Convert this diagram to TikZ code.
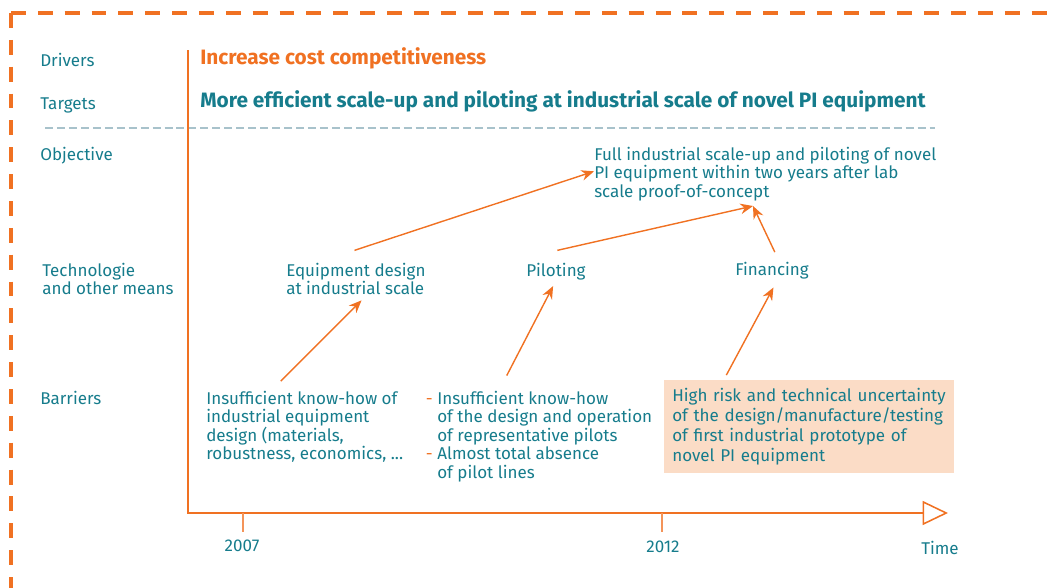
\documentclass[tikz,border=0pt]{standalone}
\usepackage{fontspec}
\setmainfont[Numbers=Lining]{Fira Sans}
\usetikzlibrary{arrows.meta}
\definecolor{ora}{RGB}{240,113,34}
\definecolor{tealtxt}{RGB}{22,124,140}
\definecolor{peach}{RGB}{251,220,198}
\definecolor{divgray}{RGB}{168,194,203}
\tikzset{
  txt/.style={text=tealtxt,inner sep=0pt,font=\fontsize{12.1}{13.1}\selectfont},
  lbl/.style={txt,anchor=base west},
  blk/.style={txt,align=left,anchor=north west},
  head/.style={inner sep=0pt,anchor=base west,font=\fontsize{14.8}{16}\selectfont\bfseries},
  arr/.style={draw=ora,line width=1pt,-{Stealth[length=9pt,width=7.5pt]}},
}
\begin{document}
\begin{tikzpicture}[x=0.025cm,y=-0.025cm]
  \useasboundingbox (0,0) rectangle (1054,587);
  % frame
  \draw[ora,line width=2.8pt,dash pattern=on 10.6pt off 8.5pt] (11,13) -- (1070,13);
  \draw[ora,line width=2.8pt,dash pattern=on 10.6pt off 8.5pt] (11,13) -- (11,600);
  % divider
  \draw[divgray,line width=1.8pt,dash pattern=on 5.7pt off 2.8pt] (45,128) -- (935,128);
  % axes
  \draw[ora,line width=1.1pt,-{Triangle[open,length=18pt,width=17pt]}] (188,50) -- (188,513) -- (948,513);
  \draw[ora!75,line width=1.1pt] (243,513) -- (243,532);
  \draw[ora!75,line width=1.1pt] (662,513) -- (662,532);
  % row labels
  \node[lbl] (drivers) at(40,66){Drivers};
  \node[lbl] (targets) at(40,109){Targets};
  \node[lbl] (objective) at(40,160){Objective};
  \node[blk] (means) at(42,263){Technologie\\and other means};
  \node[lbl] (barriers) at(40,404){Barriers};
  % headlines
  \node[head,text=ora] (driver) at(200,64){Increase cost competitiveness};
  \node[head,text=tealtxt] (target) at(200,107){More efficient scale-up and piloting at industrial scale of novel PI equipment};
  % objective
  \node[blk] (obj) at(594,147){Full industrial scale-up and piloting of novel\\PI equipment within two years after lab\\scale proof-of-concept};
  \coordinate (objin) at(753,206);
  % means
  \node[blk] (equip) at(286,263){Equipment design\\at industrial scale};
  \node[blk] (pilot) at(526,263){Piloting};
  \node[blk] (finance) at(735,262){Financing};
  % barriers
  \node[blk] (bar1) at(206,391){Insufficient know-how of\\industrial equipment\\design (materials,\\robustness, economics, ...};
  \node[blk] (bar2) at(437,391){\llap{\textcolor{ora}{-}\ }Insufficient know-how\\of the design and operation\\of representative pilots\\\llap{\textcolor{ora}{-}\ }Almost total absence\\of pilot lines};
  \node[txt,anchor=north west,fill=peach,minimum width=7.25cm,minimum height=2.325cm,
        text width=6.85cm,align=left,font=\fontsize{12.1}{14.4}\selectfont] (bar3) at(664,380){High risk and technical uncertainty\\of the design/manufacture/testing\\of first industrial prototype of\\novel PI equipment};
  % years
  \node[txt,anchor=base] (y2007) at(242,551){2007};
  \node[txt,anchor=base] (y2012) at(663,552){2012};
  \node[txt,anchor=base] (time) at(940,554){Time};
  % arrows
  \draw[arr] ([xshift=-1pt,yshift=9pt]equip.north) -- ([yshift=2pt]obj.west);
  \draw[arr] ([xshift=1pt,yshift=9pt]pilot.north) -- (objin);
  \draw[arr] ([xshift=2pt,yshift=7pt]finance.north) -- (objin);
  \draw[arr] ([xshift=-17pt,yshift=7pt]bar1.north) -- ([xshift=4pt,yshift=-3.5pt]equip.south);
  \draw[arr] ([xshift=-27pt,yshift=11pt]bar2.north) -- ([xshift=-2pt,yshift=-4pt]pilot.south);
  \draw[arr] ([xshift=-59pt,yshift=3.5pt]bar3.north) -- ([xshift=1pt,yshift=-5.7pt]finance.south);
\end{tikzpicture}
\end{document}
